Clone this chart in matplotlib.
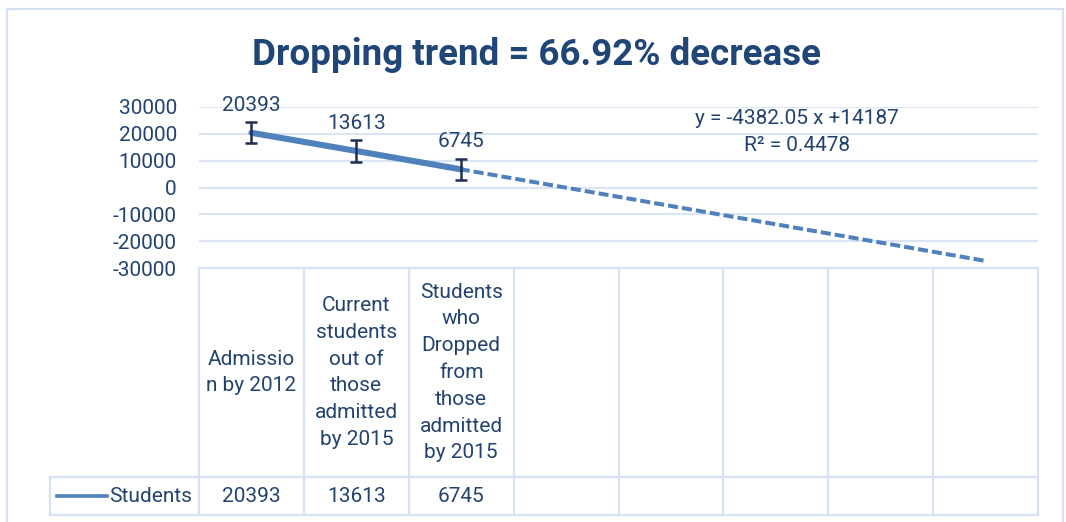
import matplotlib
matplotlib.use("Agg")
import matplotlib.pyplot as plt
import numpy as np
from matplotlib.lines import Line2D
from matplotlib.patches import Rectangle

# ---------------- data ----------------
categories = [
    "Admissio\nn by 2012",
    "Current\nstudents\nout of\nthose\nadmitted\nby 2015",
    "Students\nwho\nDropped\nfrom\nthose\nadmitted\nby 2015",
    "", "", "", "", "",
]
series_name = "Students"
values = [20393, 13613, 6745]
y_ticks = [-30000, -20000, -10000, 0, 10000, 20000, 30000]
y_tick_labels = ["-30000", "-20000", "-10000", "0", "10000", "20000", "30000"]
title_text = "Dropping trend = 66.92% decrease"
equation_text = "y = -4382.05 x +14187"
r2_text = "R\u00b2 = 0.4478"

# ---------------- style ----------------
plt.rcParams['font.family'] = ['Roboto', 'DejaVu Sans']
TXT = "#23436F"
TITLE_C = "#1F4677"
LINE_C = "#4F81BD"
GRID_C = "#D9E4F4"
ERR_C = "#1F2F4F"
FS = 15

W, H = 1066, 522
fig = plt.figure(figsize=(W / 100, H / 100), dpi=100)

def fx(px):
    return px / W

def fy(py):
    return 1 - py / H

# chart border
fig.add_artist(Rectangle((fx(7), -0.1), fx(1063) - fx(7), fy(9) + 0.1,
                         transform=fig.transFigure, fill=False,
                         edgecolor="#D3E0F0", lw=1.6))

# axes
ax_l, ax_r, ax_t, ax_b = 199, 1038, 107, 268
ax = fig.add_axes([fx(ax_l), fy(ax_b), fx(ax_r) - fx(ax_l), fy(ax_t) - fy(ax_b)])
n_cat = len(categories)
ax.set_xlim(0.5, n_cat + 0.5)
ax.set_ylim(y_ticks[0], y_ticks[-1])
for s in ax.spines.values():
    s.set_visible(False)
ax.set_xticks([])
ax.set_yticks(y_ticks)
ax.set_yticklabels(y_tick_labels, color=TXT, fontsize=FS)
ax.tick_params(axis='y', length=0, pad=16)
for yv in y_ticks:
    ax.axhline(yv, color=GRID_C, lw=1.5, zorder=0)

xs = np.arange(1, len(values) + 1)
# linear trendline, forecast forward to last category
coef = np.polyfit(xs, values, 1)
xt = np.array([1, n_cat])
ax.plot(xt, np.polyval(coef, xt), color=LINE_C, lw=2.9,
        linestyle=(0, (2.5, 1.0)), zorder=2)
# series line
ax.plot(xs, values, color=LINE_C, lw=4.4, solid_capstyle='round', zorder=3)
# standard error bars
se = np.std(values, ddof=1) / np.sqrt(len(values))
ax.errorbar(xs, values, yerr=se, fmt='none', ecolor=ERR_C, elinewidth=1.8,
            capsize=4.4, capthick=1.8, zorder=4)
# data labels
for x, v in zip(xs, values):
    ax.annotate(str(v), (x, v), xytext=(0, 20), textcoords='offset points',
                ha='center', va='center', fontsize=FS, color=TXT,
                annotation_clip=False)

# title
fig.text(fx(537), fy(55), title_text, ha='center', va='center',
         fontsize=26.5, fontweight='bold', color=TITLE_C)
# trendline equation
fig.text(fx(797), fy(119), equation_text, ha='center', va='center',
         fontsize=FS, color=TXT)
fig.text(fx(797), fy(146), r2_text, ha='center', va='center',
         fontsize=FS, color=TXT)

# ---------------- data table ----------------
TBL_C = "#D6E3F4"
hdr_top, hdr_bot, row_bot = 268, 477, 515
col_w = (ax_r - ax_l) / n_cat
col_edges = [ax_l + i * col_w for i in range(n_cat + 1)]

def hline(x0, x1, y):
    fig.add_artist(Line2D([fx(x0), fx(x1)], [fy(y), fy(y)],
                          transform=fig.transFigure, color=TBL_C, lw=1.6))

def vline(x, y0, y1):
    fig.add_artist(Line2D([fx(x), fx(x)], [fy(y0), fy(y1)],
                          transform=fig.transFigure, color=TBL_C, lw=1.6))

hline(ax_l, ax_r, hdr_top)
hline(50, ax_r, hdr_bot)
hline(50, ax_r, row_bot)
for xe in col_edges:
    vline(xe, hdr_top, row_bot)
vline(50, hdr_bot, row_bot)

for i, lab in enumerate(categories):
    cx = col_edges[i] + col_w / 2
    if lab:
        fig.text(fx(cx), fy((hdr_top + hdr_bot) / 2), lab, ha='center',
                 va='center', fontsize=FS, color=TXT, linespacing=1.52)
row_y = (hdr_bot + row_bot) / 2 + 1
for i, v in enumerate(values):
    cx = col_edges[i] + col_w / 2
    fig.text(fx(cx), fy(row_y), str(v), ha='center', va='center',
             fontsize=FS, color=TXT)
# legend key in data table
fig.add_artist(Line2D([fx(57), fx(107)], [fy(row_y - 1), fy(row_y - 1)],
                      transform=fig.transFigure, color=LINE_C, lw=2.6))
fig.text(fx(109), fy(row_y), series_name, ha='left', va='center',
         fontsize=FS, color=TXT)

fig.savefig("out.png", dpi=100)
